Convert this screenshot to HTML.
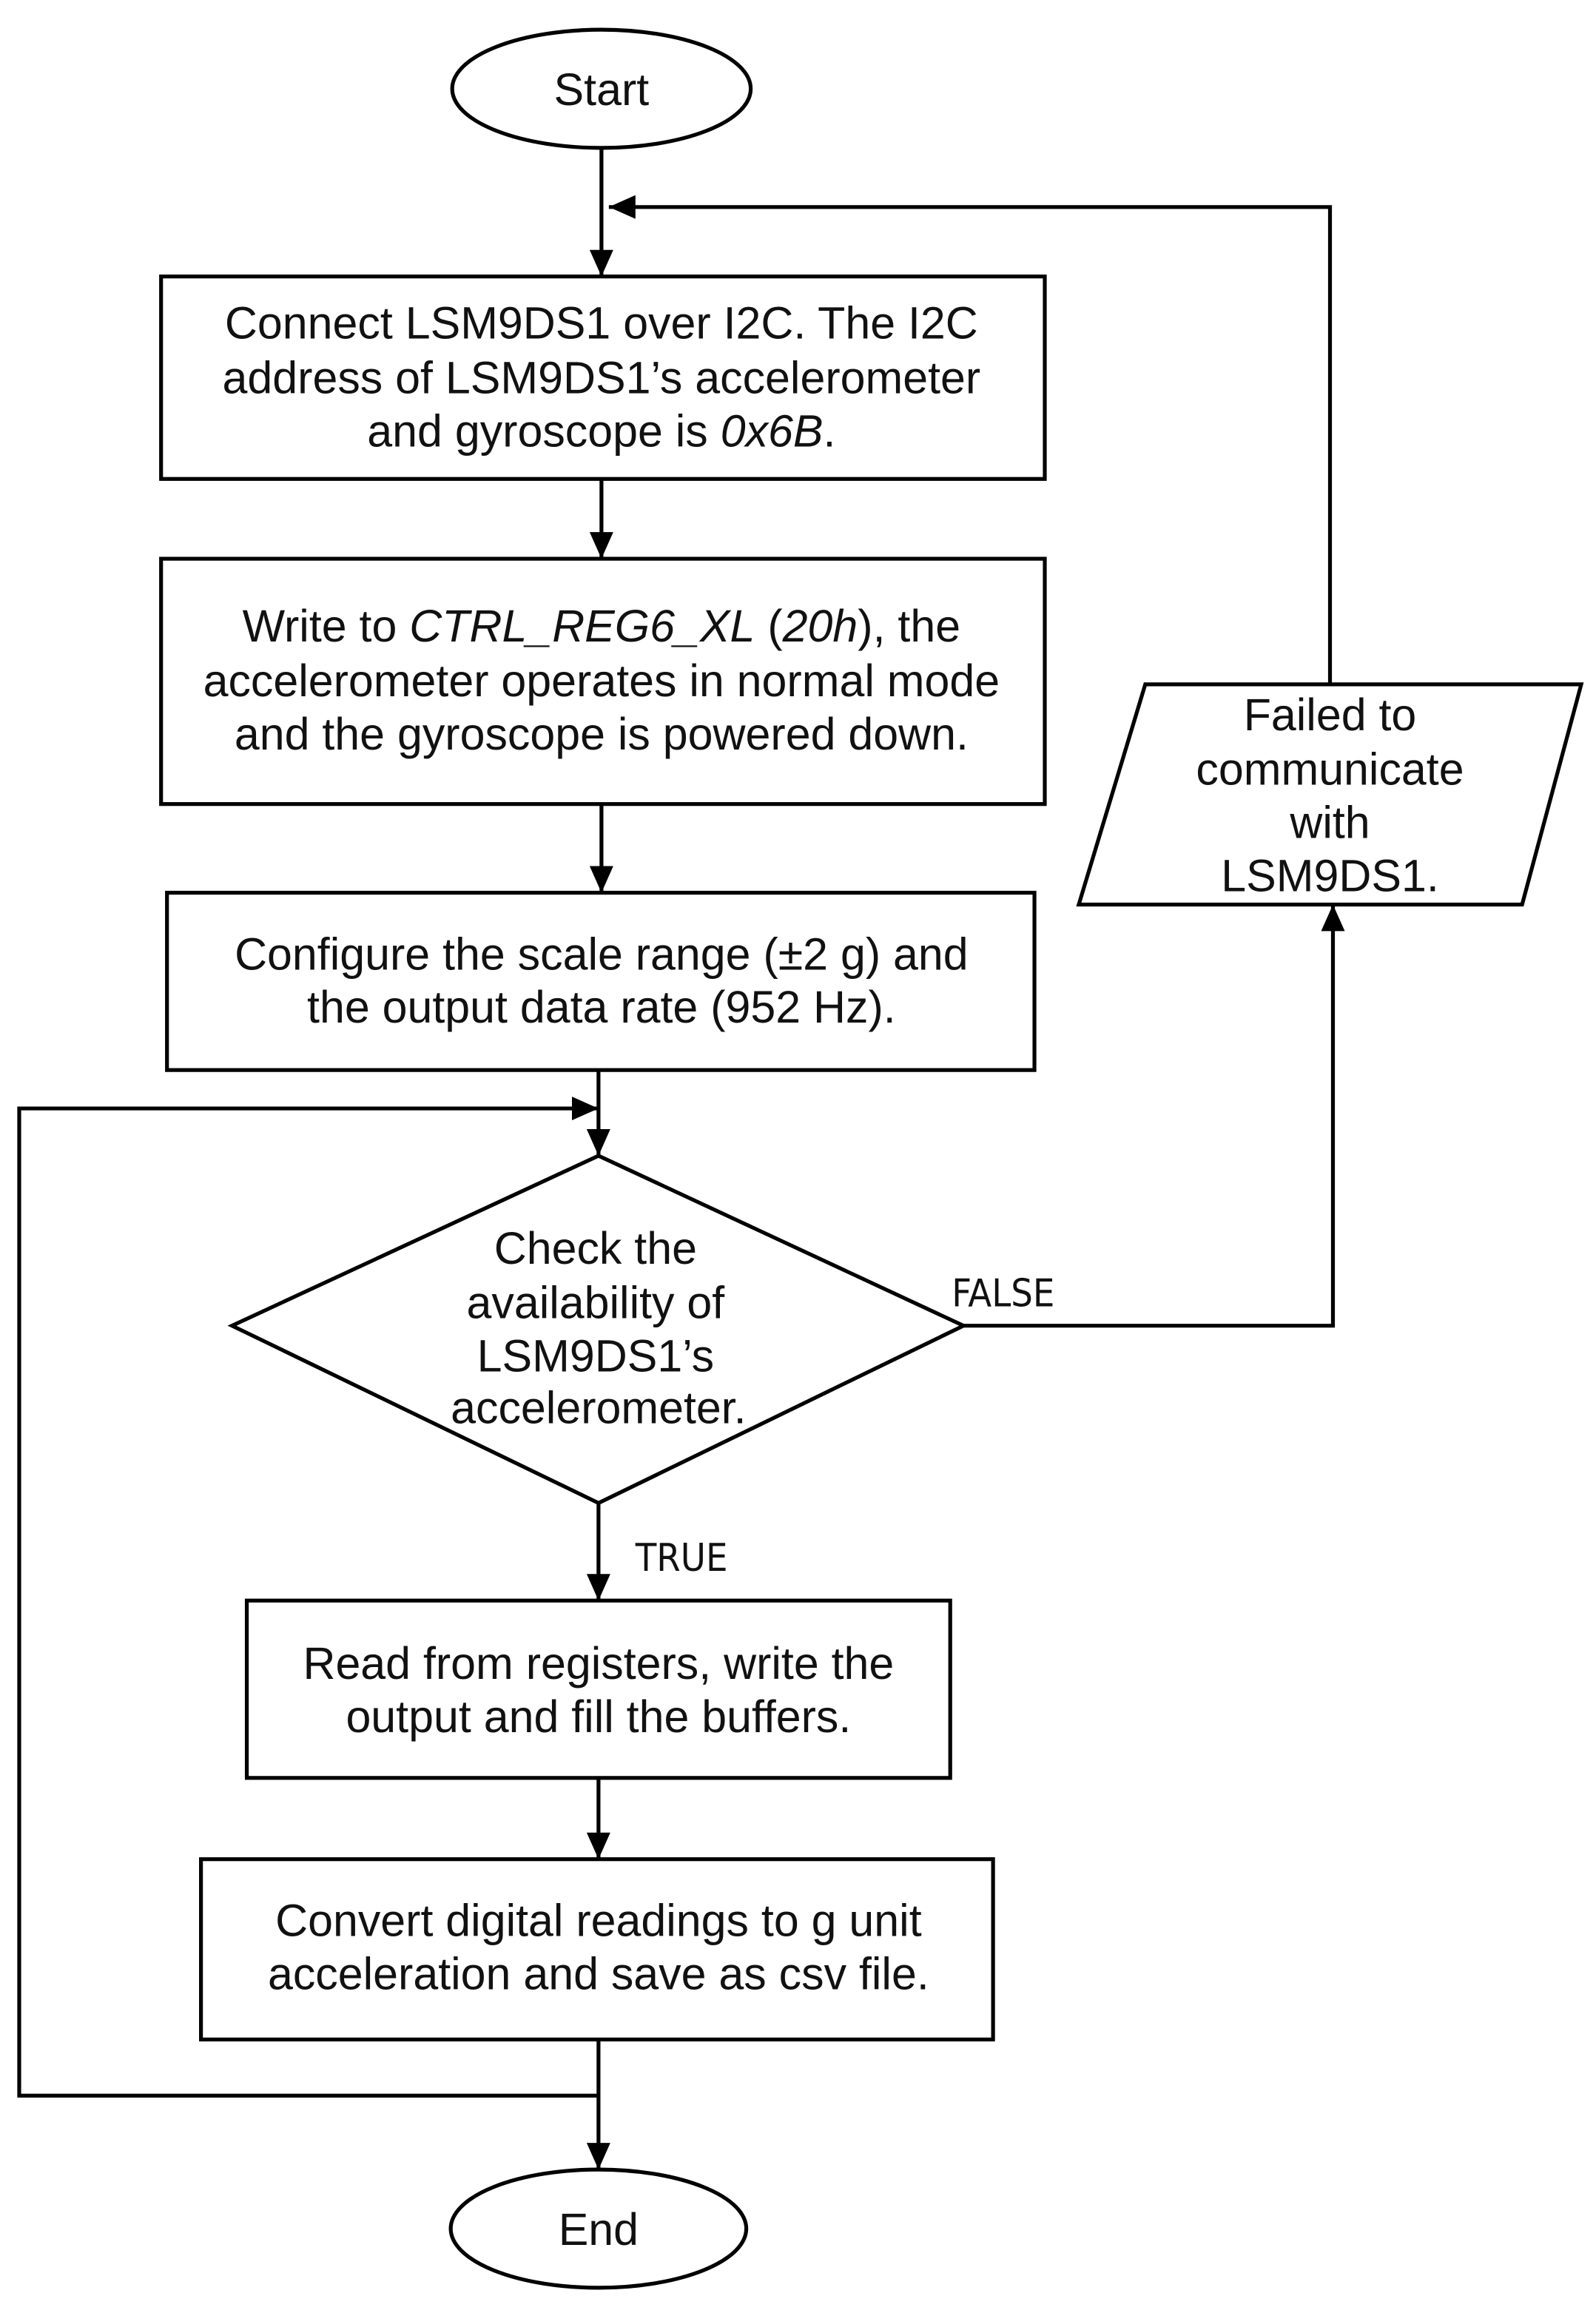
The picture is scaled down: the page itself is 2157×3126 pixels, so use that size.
<!DOCTYPE html>
<html><head><meta charset="utf-8"><style>
html,body{margin:0;padding:0;background:#fff;}
svg{display:block;}
text{font-family:"Liberation Sans",Arial,sans-serif;font-size:30.5px;fill:#111;text-anchor:middle;}
.lbl{font-size:26px;text-anchor:start;font-family:"DejaVu Sans Condensed","Liberation Sans",sans-serif;}
</style></head><body>
<svg width="2157" height="3126" viewBox="0 0 1080 1565" xmlns="http://www.w3.org/2000/svg">
<defs>
<marker id="b" markerWidth="20" markerHeight="20" refX="18" refY="8" orient="auto" markerUnits="userSpaceOnUse" viewBox="0 0 20 16"><path d="M0,0 L18,8 L0,16 z" fill="#000"/></marker></defs>
<g fill="none" stroke="#000" stroke-width="2.6">
<ellipse cx="407" cy="60" rx="101" ry="40" fill="#fff"/>
<rect x="109" y="187" width="598" height="137" fill="#fff"/>
<rect x="109" y="378" width="598" height="166" fill="#fff"/>
<rect x="113" y="604" width="587" height="120" fill="#fff"/>
<polygon points="405,782 652,897 405,1017 157,897" fill="#fff"/>
<polygon points="775,463 1070,463 1030,612 730,612" fill="#fff"/>
<rect x="167" y="1083" width="476" height="120" fill="#fff"/>
<rect x="136" y="1258" width="536" height="122" fill="#fff"/>
<ellipse cx="405" cy="1508" rx="100" ry="40" fill="#fff"/>
<line x1="407" y1="100" x2="407" y2="187" marker-end="url(#b)"/>
<polyline points="900,463 900,140 412,140" marker-end="url(#b)"/>
<line x1="407" y1="324" x2="407" y2="378" marker-end="url(#b)"/>
<line x1="407" y1="544" x2="407" y2="604" marker-end="url(#b)"/>
<line x1="405" y1="724" x2="405" y2="782" marker-end="url(#b)"/>
<polyline points="405,1418 13,1418 13,750 405,750" marker-end="url(#b)"/>
<polyline points="652,897 902,897 902,612" marker-end="url(#b)"/>
<line x1="405" y1="1017" x2="405" y2="1083" marker-end="url(#b)"/>
<line x1="405" y1="1203" x2="405" y2="1258" marker-end="url(#b)"/>
<line x1="405" y1="1380" x2="405" y2="1468" marker-end="url(#b)"/>
</g>
<text x="407" y="71">Start</text>
<text x="407" y="229">Connect LSM9DS1 over I2C. The I2C</text>
<text x="407" y="266">address of LSM9DS1’s accelerometer</text>
<text x="407" y="302">and gyroscope is <tspan font-style="italic">0x6B</tspan>.</text>
<text x="407" y="434">Write to <tspan font-style="italic">CTRL_REG6_XL</tspan> (<tspan font-style="italic">20h</tspan>), the</text>
<text x="407" y="471">accelerometer operates in normal mode</text>
<text x="407" y="507">and the gyroscope is powered down.</text>
<text x="407" y="656">Configure the scale range (±2 g) and</text>
<text x="407" y="692">the output data rate (952 Hz).</text>
<text x="403" y="855">Check the</text>
<text x="403" y="892">availability of</text>
<text x="403" y="928">LSM9DS1’s</text>
<text x="405" y="963">accelerometer.</text>
<text x="900" y="494">Failed to</text>
<text x="900" y="531">communicate</text>
<text x="900" y="567">with</text>
<text x="900" y="603">LSM9DS1.</text>
<text class="lbl" x="644" y="884">FALSE</text>
<text class="lbl" x="430" y="1063">TRUE</text>
<text x="405" y="1136">Read from registers, write the</text>
<text x="405" y="1172">output and fill the buffers.</text>
<text x="405" y="1310">Convert digital readings to g unit</text>
<text x="405" y="1346">acceleration and save as csv file.</text>
<text x="405" y="1519">End</text>
</svg>
</body></html>
